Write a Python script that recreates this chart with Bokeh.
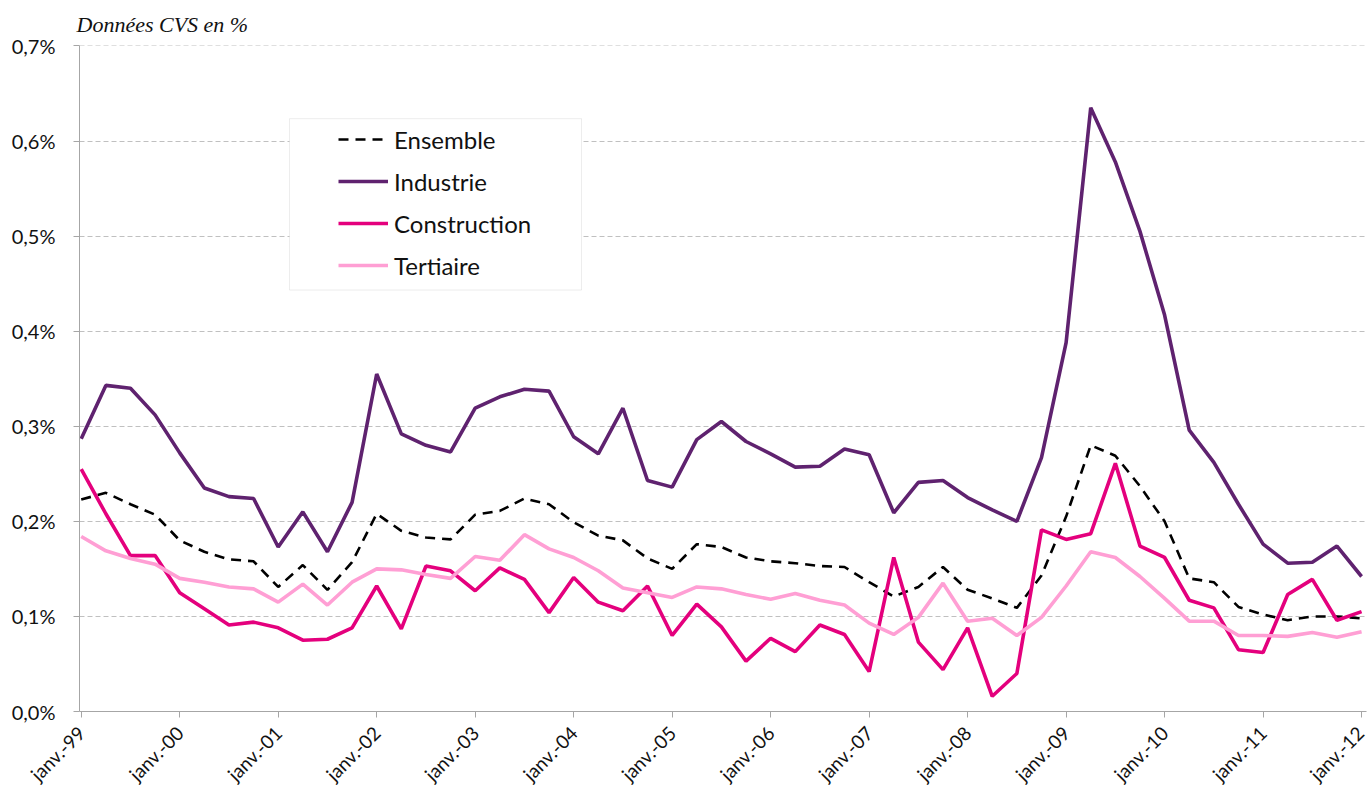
from math import pi
from bokeh.plotting import figure
from bokeh.models import FixedTicker, Legend, LegendItem, BoxAnnotation, Range1d
from bokeh.embed import file_html
from bokeh.resources import INLINE

# Quarterly observations, janv.-99 .. janv.-12 (index = quarter number)
quarters = list(range(53))
year_ticks = list(range(0, 53, 4))
year_labels = ["janv.-99", "janv.-00", "janv.-01", "janv.-02", "janv.-03", "janv.-04",
               "janv.-05", "janv.-06", "janv.-07", "janv.-08", "janv.-09", "janv.-10",
               "janv.-11", "janv.-12"]
y_ticks = [0.0, 0.1, 0.2, 0.3, 0.4, 0.5, 0.6, 0.7]
y_labels = ["0,0%", "0,1%", "0,2%", "0,3%", "0,4%", "0,5%", "0,6%", "0,7%"]

ensemble = [0.223, 0.230, 0.218, 0.207, 0.180, 0.168, 0.160, 0.158, 0.131, 0.154,
            0.128, 0.157, 0.208, 0.190, 0.183, 0.181, 0.207, 0.211, 0.224, 0.218,
            0.199, 0.185, 0.180, 0.161, 0.150, 0.176, 0.173, 0.162, 0.158, 0.156,
            0.153, 0.152, 0.136, 0.121, 0.131, 0.152, 0.128, 0.119, 0.109, 0.143,
            0.205, 0.280, 0.269, 0.237, 0.200, 0.140, 0.136, 0.110, 0.102, 0.096,
            0.100, 0.100, 0.098]
industrie = [0.287, 0.343, 0.340, 0.312, 0.272, 0.235, 0.226, 0.224, 0.173, 0.210,
             0.168, 0.220, 0.355, 0.292, 0.280, 0.273, 0.319, 0.331, 0.339, 0.337,
             0.289, 0.271, 0.319, 0.243, 0.236, 0.286, 0.305, 0.284, 0.271, 0.257,
             0.258, 0.276, 0.270, 0.209, 0.241, 0.243, 0.225, 0.212, 0.200, 0.267,
             0.388, 0.635, 0.578, 0.505, 0.417, 0.296, 0.262, 0.218, 0.176, 0.156,
             0.157, 0.174, 0.142]
construction = [0.255, 0.208, 0.164, 0.164, 0.125, 0.108, 0.091, 0.094, 0.088, 0.075,
                0.076, 0.088, 0.132, 0.087, 0.153, 0.148, 0.127, 0.151, 0.139, 0.104,
                0.141, 0.115, 0.106, 0.132, 0.080, 0.113, 0.089, 0.053, 0.077, 0.063,
                0.091, 0.081, 0.042, 0.162, 0.073, 0.044, 0.088, 0.016, 0.040, 0.191,
                0.181, 0.187, 0.261, 0.174, 0.162, 0.117, 0.109, 0.065, 0.062, 0.123,
                0.139, 0.096, 0.105]
tertiaire = [0.184, 0.169, 0.161, 0.155, 0.140, 0.136, 0.131, 0.129, 0.115, 0.134,
             0.112, 0.136, 0.150, 0.149, 0.144, 0.140, 0.163, 0.159, 0.186, 0.171,
             0.162, 0.148, 0.130, 0.125, 0.120, 0.131, 0.129, 0.123, 0.118, 0.124,
             0.117, 0.112, 0.093, 0.081, 0.099, 0.135, 0.095, 0.098, 0.080, 0.099,
             0.132, 0.168, 0.162, 0.142, 0.119, 0.095, 0.095, 0.080, 0.080, 0.079,
             0.083, 0.078, 0.084]

FONT = "Lato"
AXIS_GREY = "#a6a6a6"

p = figure(width=1368, height=796, output_backend="svg", toolbar_location=None,
           x_range=Range1d(-0.07, 52.2), y_range=Range1d(0, 0.7005),
           min_border_left=79, min_border_right=2, min_border_top=45,
           min_border_bottom=83)
p.outline_line_color = None
p.background_fill_color = "white"

p.title.text = "Données CVS en %"
p.title.text_font = "Liberation Serif"
p.title.text_font_style = "italic"
p.title.text_font_size = "22px"
p.title.text_color = "#111111"
p.title.align = "left"
p.title.offset = -3
p.title.standoff = 18

# axes
p.xaxis.ticker = FixedTicker(ticks=year_ticks)
p.xaxis.major_label_overrides = {t: l for t, l in zip(year_ticks, year_labels)}
p.xaxis.major_label_orientation = pi / 4
p.yaxis.ticker = FixedTicker(ticks=y_ticks)
p.yaxis.major_label_overrides = {t: l for t, l in zip(y_ticks, y_labels)}
for ax in (p.xaxis[0], p.yaxis[0]):
    ax.axis_line_color = AXIS_GREY
    ax.axis_line_width = 1
    ax.major_tick_line_color = AXIS_GREY
    ax.major_tick_in = 0
    ax.major_tick_out = 6
    ax.minor_tick_line_color = None
    ax.major_label_text_font = FONT
    ax.major_label_text_color = "#111111"
p.yaxis.major_label_text_font_size = "20px"
p.yaxis.major_label_standoff = 18
p.xaxis.major_label_text_font_size = "19px"
p.xaxis.major_label_standoff = 12

p.xgrid.grid_line_color = None
p.ygrid.grid_line_color = "#c0c0c0"
p.ygrid.grid_line_dash = "5 3"
p.ygrid.grid_line_width = 1

r_ens = p.line(quarters, ensemble, line_color="black", line_width=2.6, line_dash="10 7")
r_ind = p.line(quarters, industrie, line_color="#5f226f", line_width=3.6)
r_con = p.line(quarters, construction, line_color="#e4007d", line_width=3.6)
r_ter = p.line(quarters, tertiaire, line_color="#ff9fd4", line_width=3.6)

box = BoxAnnotation(left=8.46, right=20.32, top=0.6235, bottom=0.4433,
                    fill_color="white", fill_alpha=1.0,
                    line_color="#bfbfbf", line_width=1)
p.add_layout(box)

legend = Legend(items=[LegendItem(label="Ensemble", renderers=[r_ens]),
                       LegendItem(label="Industrie", renderers=[r_ind]),
                       LegendItem(label="Construction", renderers=[r_con]),
                       LegendItem(label="Tertiaire", renderers=[r_ter])],
                location=(259, 431), padding=0, margin=0, spacing=12,
                glyph_width=50, glyph_height=30, label_height=30,
                label_standoff=6, border_line_alpha=0, background_fill_alpha=0,
                label_text_font=FONT, label_text_font_size="24px",
                label_text_color="#111111")
p.add_layout(legend)

open("out.html", "w").write(file_html(p, INLINE))
